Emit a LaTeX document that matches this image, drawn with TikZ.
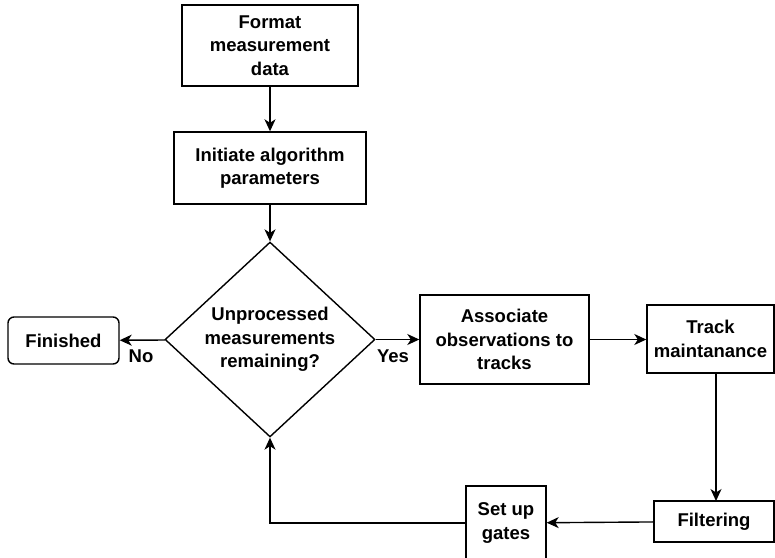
\documentclass[tikz,border=0pt]{standalone}
\usepackage{fontspec}
\setmainfont{Liberation Sans}
\usetikzlibrary{shapes.geometric,arrows.meta}
\begin{document}
\begin{tikzpicture}[x=1pt,y=-1pt,
  every node/.style={font=\fontsize{18.5}{23.5}\selectfont\bfseries, align=center},
  box/.style={draw, line width=1.4pt, inner sep=0pt, anchor=center},
  arr/.style={line width=1.4pt, -{Stealth[length=12pt,width=11pt,inset=3.5pt]}},
  lbl/.style={inner sep=0pt}]
\useasboundingbox (0,0) rectangle (775,557);
\node[box, minimum width=176pt, minimum height=81pt] (fmt) at (270,45.5) {Format\\measurement\\data};
\node[box, minimum width=192pt, minimum height=72pt] (init) at (270,168) {Initiate algorithm\\parameters};
\node[box, diamond, minimum width=210pt, minimum height=193pt] (dec) at (270,339.5) {Unprocessed\\measurements\\remaining?};
\node[box, rounded corners=6pt, minimum width=111pt, minimum height=47pt] (fin) at (63.5,340.5) {Finished};
\node[box, minimum width=169pt, minimum height=89pt] (assoc) at (504.5,339.5) {Associate\\observations to\\tracks};
\node[box, minimum width=127pt, minimum height=68pt] (track) at (710.5,339) {Track\\maintanance};
\node[box, minimum width=120pt, minimum height=41pt] (filt) at (714,521.5) {Filtering};
\node[box, minimum width=80pt, minimum height=74pt] (gates) at (506,523) {Set up\\gates};
\coordinate (corner) at (270,523);
\draw[arr] (fmt) -- (init);
\draw[arr] (init) -- (dec);
\draw[arr] (dec) -- (fin);
\draw[arr] (dec) -- (assoc);
\draw[arr] (assoc) -- (assoc -| track.west);
\draw[arr] (716,373) -- (716,501);
\draw[arr] (filt) -- (gates);
\draw[arr] (gates.west) -- (corner) -- (dec.south);
\node[lbl] (no) at (141,356) {No};
\node[lbl] (yes) at (393,356) {Yes};
\end{tikzpicture}
\end{document}
